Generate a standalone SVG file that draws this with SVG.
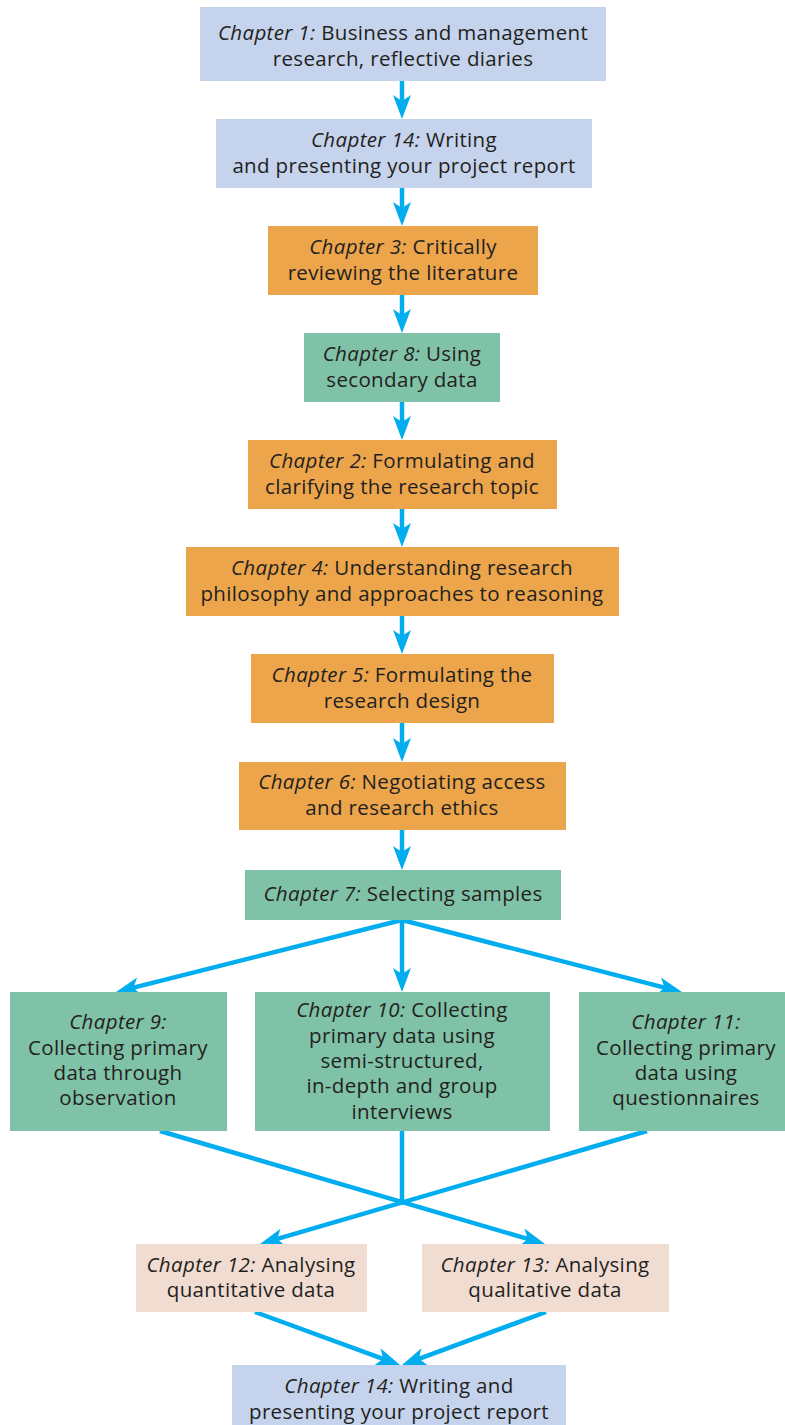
<svg xmlns="http://www.w3.org/2000/svg" width="785" height="1425" viewBox="0 0 785 1425">
<defs>
<marker id="ah" markerUnits="userSpaceOnUse" markerWidth="40" markerHeight="40" viewBox="-20 -20 40 40" refX="0" refY="0" orient="auto">
<path d="M10,0 L-14,-9 L-8,0 L-14,9 Z" fill="#00adef"/>
</marker>
<style>
.blue{fill:#c5d3ec}
.orange{fill:#eca54b}
.green{fill:#80c2a7}
.pink{fill:#f1dcd2}
text{font-family:"Open Sans","Noto Sans","Liberation Sans",sans-serif;font-size:20.5px;letter-spacing:0.35px;fill:#231f20;text-anchor:middle}
.i{font-style:italic}
.c line{stroke:#00adef;stroke-width:4.5;fill:none}
.c .a{marker-end:url(#ah)}
</style>
</defs>
<g class="c" id="connectors">
<line class="a" x1="402" y1="81" x2="402" y2="109"/>
<line class="a" x1="402" y1="188" x2="402" y2="216"/>
<line class="a" x1="402" y1="295" x2="402" y2="323"/>
<line class="a" x1="402" y1="402" x2="402" y2="430"/>
<line class="a" x1="402" y1="509" x2="402" y2="537"/>
<line class="a" x1="402" y1="616" x2="402" y2="644"/>
<line class="a" x1="402" y1="723" x2="402" y2="752"/>
<line class="a" x1="402" y1="830" x2="402" y2="860"/>
<line class="a" x1="402" y1="920" x2="125.7" y2="989.6"/>
<line class="a" x1="402" y1="920" x2="402" y2="982"/>
<line class="a" x1="402" y1="920" x2="672.3" y2="989.6"/>
<line class="a" x1="160" y1="1131" x2="535.4" y2="1241.2"/>
<line class="a" x1="647" y1="1131" x2="269.6" y2="1241.2"/>
<line x1="402" y1="1131" x2="402" y2="1203"/>
<line class="a" x1="255" y1="1312" x2="390.6" y2="1361.6"/>
<line class="a" x1="546" y1="1312" x2="411.4" y2="1361.6"/>
</g>
<g id="ch1"><rect class="blue" x="200" y="7" width="406" height="74"/>
<text x="403" y="40"><tspan class="i">Chapter 1:</tspan> Business and management</text>
<text x="403" y="66">research, reflective diaries</text></g>
<g id="ch14a"><rect class="blue" x="216" y="119" width="376" height="69"/>
<text x="404" y="147"><tspan class="i">Chapter 14:</tspan> Writing</text>
<text x="404" y="173">and presenting your project report</text></g>
<g id="ch3"><rect class="orange" x="268" y="226" width="270" height="69"/>
<text x="403" y="254"><tspan class="i">Chapter 3:</tspan> Critically</text>
<text x="403" y="280">reviewing the literature</text></g>
<g id="ch8"><rect class="green" x="304" y="333" width="196" height="69"/>
<text x="402" y="361"><tspan class="i">Chapter 8:</tspan> Using</text>
<text x="402" y="387">secondary data</text></g>
<g id="ch2"><rect class="orange" x="248" y="440" width="309" height="69"/>
<text x="402" y="468"><tspan class="i">Chapter 2:</tspan> Formulating and</text>
<text x="402" y="494">clarifying the research topic</text></g>
<g id="ch4"><rect class="orange" x="186" y="547" width="433" height="69"/>
<text x="402" y="575"><tspan class="i">Chapter 4:</tspan> Understanding research</text>
<text x="402" y="601">philosophy and approaches to reasoning</text></g>
<g id="ch5"><rect class="orange" x="251" y="654" width="303" height="69"/>
<text x="402" y="682"><tspan class="i">Chapter 5:</tspan> Formulating the</text>
<text x="402" y="708">research design</text></g>
<g id="ch6"><rect class="orange" x="239" y="762" width="327" height="68"/>
<text x="402" y="789"><tspan class="i">Chapter 6:</tspan> Negotiating access</text>
<text x="402" y="815">and research ethics</text></g>
<g id="ch7"><rect class="green" x="245" y="870" width="316" height="50"/>
<text x="403" y="901"><tspan class="i">Chapter 7:</tspan> Selecting samples</text></g>
<g id="ch9"><rect class="green" x="10" y="992" width="217" height="139"/>
<text x="118" y="1029" class="i">Chapter 9:</text>
<text x="118" y="1055">Collecting primary</text>
<text x="118" y="1080">data through</text>
<text x="118" y="1105">observation</text></g>
<g id="ch10"><rect class="green" x="255" y="992" width="295" height="139"/>
<text x="402" y="1017"><tspan class="i">Chapter 10:</tspan> Collecting</text>
<text x="402" y="1043">primary data using</text>
<text x="402" y="1068">semi-structured,</text>
<text x="402" y="1093">in-depth and group</text>
<text x="402" y="1119">interviews</text></g>
<g id="ch11"><rect class="green" x="579" y="992" width="206" height="139"/>
<text x="686" y="1029" class="i">Chapter 11:</text>
<text x="686" y="1055">Collecting primary</text>
<text x="686" y="1080">data using</text>
<text x="686" y="1105">questionnaires</text></g>
<g id="ch12"><rect class="pink" x="136" y="1244" width="231" height="68"/>
<text x="251" y="1272"><tspan class="i">Chapter 12:</tspan> Analysing</text>
<text x="251" y="1297">quantitative data</text></g>
<g id="ch13"><rect class="pink" x="422" y="1244" width="247" height="68"/>
<text x="545" y="1272"><tspan class="i">Chapter 13:</tspan> Analysing</text>
<text x="545" y="1297">qualitative data</text></g>
<g id="ch14b"><rect class="blue" x="232" y="1365" width="334" height="60"/>
<text x="399" y="1393"><tspan class="i">Chapter 14:</tspan> Writing and</text>
<text x="399" y="1419">presenting your project report</text></g>
</svg>
